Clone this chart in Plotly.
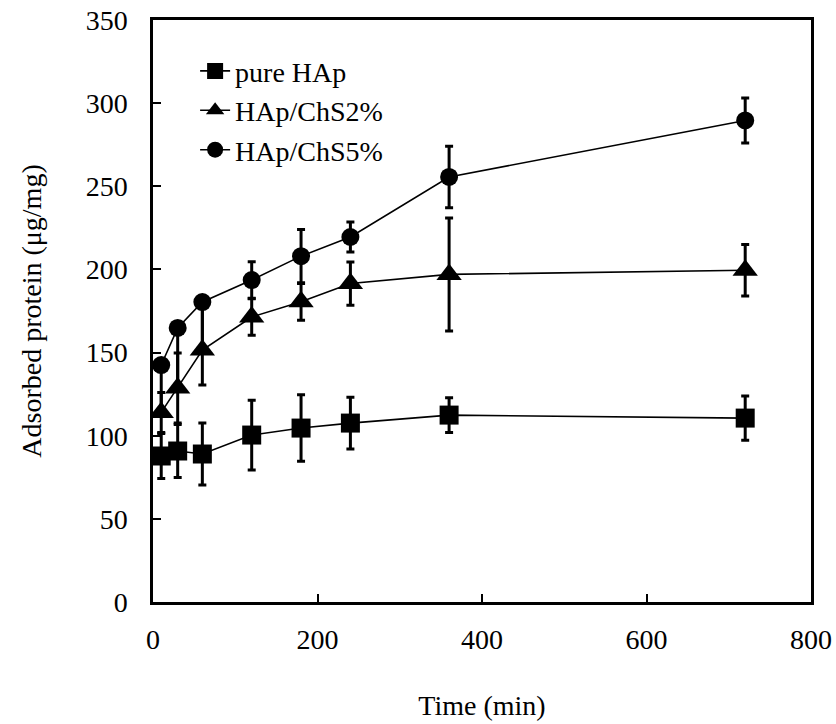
import plotly.graph_objects as go

time_min = [10, 30, 60, 120, 180, 240, 360, 720]

pure_hap = [87.8, 90.8, 89.0, 100.4, 104.6, 107.6, 112.4, 110.6]
pure_hap_err = [13.5, 16, 18.6, 21, 20, 15.6, 10.5, 13.3]

chs2 = [114, 128.7, 151.5, 171.4, 180.5, 191.5, 197, 199.5]
chs2_err_plus = [12, 21, 29, 11, 11, 13, 34, 15.5]
chs2_err_minus = [12, 21, 21, 11, 11, 13, 34, 15.5]

chs5 = [142.5, 164.8, 180.4, 193.6, 208, 219.5, 255.6, 289.6]
chs5_err_plus = [3, 3, 3, 11, 16, 9, 18.5, 13.5]
chs5_err_minus = [30, 35, 27, 11, 16, 9, 18.5, 13.5]

FONT = "Liberation Serif"

fig = go.Figure()

def add(name, y, ep, em, symbol, size):
    fig.add_trace(go.Scatter(
        x=time_min, y=y, name=name, mode="lines+markers",
        line=dict(color="black", width=1.6),
        marker=dict(symbol=symbol, size=size, color="black"),
        error_y=dict(type="data", symmetric=False, array=ep, arrayminus=em,
                     color="black", thickness=3, width=4),
    ))

add("pure HAp", pure_hap, pure_hap_err, pure_hap_err, "square", 19)
add("HAp/ChS2%", chs2, chs2_err_plus, chs2_err_minus, "triangle-up", 22)
add("HAp/ChS5%", chs5, chs5_err_plus, chs5_err_minus, "circle", 18)

axis_common = dict(
    showline=True, linecolor="black", linewidth=2.5, mirror=True,
    ticks="inside", ticklen=8, tickwidth=2, tickcolor="black",
    showgrid=False, zeroline=False, automargin=False,
    ticklabeloverflow="allow",
    tickfont=dict(family=FONT, size=28, color="black"),
)

fig.update_layout(
    width=836, height=724,
    paper_bgcolor="white", plot_bgcolor="white",
    margin=dict(l=153, r=25, t=20, b=122),
    font=dict(family=FONT, color="black"),
    showlegend=True,
    legend=dict(x=0.064, y=0.955, xanchor="left", yanchor="top",
                font=dict(family=FONT, size=28, color="black"),
                bgcolor="rgba(0,0,0,0)", itemwidth=30, tracegroupgap=0),
    xaxis=dict(range=[0, 800], tickvals=[0, 200, 400, 600, 800],
               ticklabelstandoff=11,
               title=dict(text="Time (min)", font=dict(family=FONT, size=28, color="black"),
                          standoff=42),
               **axis_common),
    yaxis=dict(range=[0, 350], tickvals=[0, 50, 100, 150, 200, 250, 300, 350],
               ticklabelstandoff=17,
               title=dict(text="Adsorbed protein (μg/mg)", font=dict(family=FONT, size=28, color="black"),
                          standoff=36),
               **axis_common),
)

fig.write_html("out.html",
               config={"displayModeBar": False},
               post_script="document.body.style.margin='0';document.body.style.overflow='hidden';")
